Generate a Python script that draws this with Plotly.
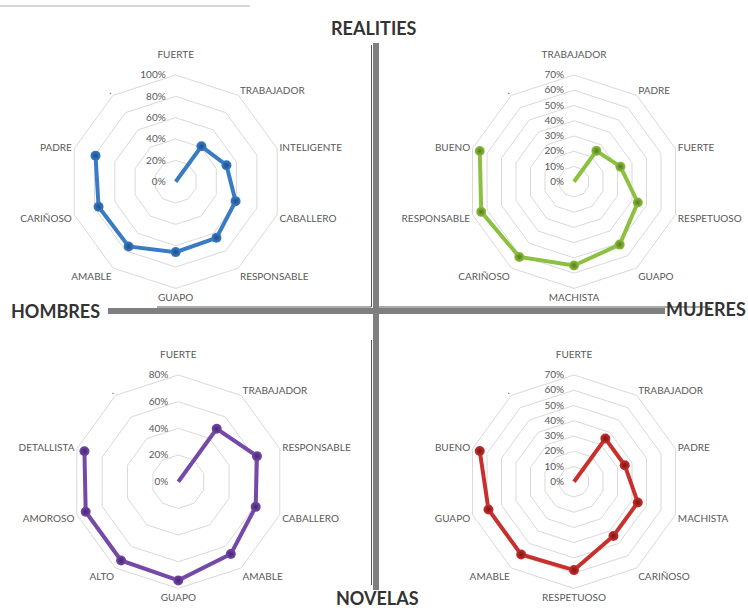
import plotly.graph_objects as go

# ---- data -------------------------------------------------------------
hombres_realities_cats = ["FUERTE", "TRABAJADOR", "INTELIGENTE", "CABALLERO",
                          "RESPONSABLE", "GUAPO", "AMABLE", "CARIÑOSO", "PADRE"]
hombres_realities_vals = [0, 41, 50, 59, 65, 66, 75, 76, 79]

mujeres_realities_cats = ["TRABAJADOR", "PADRE", "FUERTE", "RESPETUOSO",
                          "GUAPO", "MACHISTA", "CARIÑOSO", "RESPONSABLE", "BUENO"]
mujeres_realities_vals = [0, 25, 32, 44, 51, 55, 61, 64, 65]

hombres_novelas_cats = ["FUERTE", "TRABAJADOR", "RESPONSABLE", "CABALLERO",
                        "AMABLE", "GUAPO", "ALTO", "AMOROSO", "DETALLISTA"]
hombres_novelas_vals = [0, 49, 62, 61, 67, 74, 73, 73, 74]

mujeres_novelas_cats = ["FUERTE", "TRABAJADOR", "PADRE", "MACHISTA",
                        "CARIÑOSO", "RESPETUOSO", "AMABLE", "GUAPO", "BUENO"]
mujeres_novelas_vals = [0, 35, 35, 44, 44, 58, 59, 59, 65]

blank_axis = "."   # tenth spoke of each radar has no name

radial_max = [100, 70, 80, 70]
radial_step = [20, 10, 20, 10]

panel_titles = ["REALITIES", "HOMBRES", "MUJERES", "NOVELAS"]

# ---- styling ----------------------------------------------------------
W, H = 748, 610
R = 106.7
panels = [
    # (cats, vals, colour, gradient edge, centre x, centre y)
    (hombres_realities_cats, hombres_realities_vals, "#3a7cc4", "#1d4f8c", 175.7, 181.7),
    (mujeres_realities_cats, mujeres_realities_vals, "#8cc040", "#557a1c", 574.0, 181.7),
    (hombres_novelas_cats, hombres_novelas_vals, "#7449a8", "#45256e", 178.3, 481.7),
    (mujeres_novelas_cats, mujeres_novelas_vals, "#c8302e", "#7e1412", 574.0, 481.7),
]

label_font = dict(family="Lato, Open Sans, sans-serif", size=10, color="#595959")
grid_col = "#d9d9d9"

fig = go.Figure()
layout_polars = {}
for i, (cats, vals, col, edge, cx, cy) in enumerate(panels):
    name = "polar" if i == 0 else f"polar{i + 1}"
    fig.add_trace(go.Scatterpolar(
        r=vals, theta=cats, mode="lines+markers",
        line=dict(color=col, width=4),
        marker=dict(size=10, color=col,
                    gradient=dict(type="radial", color=edge),
                    line=dict(width=0)),
        subplot=name, showlegend=False, hoverinfo="skip",
    ))
    spokes = cats + [blank_axis]
    # the top label sits a little higher above its spoke
    spoke_text = [spokes[0] + "<br> "] + spokes[1:]
    layout_polars[name] = dict(
        domain=dict(x=[(cx - R) / W, (cx + R) / W],
                    y=[1 - (cy + R) / H, 1 - (cy - R) / H]),
        gridshape="linear",
        bgcolor="rgba(0,0,0,0)",
        angularaxis=dict(
            type="category", categoryarray=spokes,
            tickmode="array", tickvals=spokes, ticktext=spoke_text,
            rotation=90, direction="clockwise",
            showgrid=False, showline=True, linecolor=grid_col, linewidth=1,
            ticks="", ticklen=0,
            tickfont=label_font,
        ),
        radialaxis=dict(
            range=[0, radial_max[i]], dtick=radial_step[i], tick0=0,
            ticksuffix="%", angle=90, tickangle=90, side="counterclockwise",
            showline=False, ticks="outside", ticklen=6,
            tickcolor="rgba(0,0,0,0)", gridcolor=grid_col, gridwidth=1,
            tickfont=label_font,
        ),
    )

fig.update_layout(
    width=W, height=H,
    margin=dict(l=0, r=0, t=0, b=0),
    paper_bgcolor="white", plot_bgcolor="white",
    **layout_polars,
)

def px(x):
    return x / W

def py(y):
    return 1 - y / H

shapes = [
    # faint rule along the top edge
    dict(type="line", x0=px(0), x1=px(250), y0=py(6), y1=py(6),
         line=dict(color="#d6d6d6", width=2)),
    # thin chart frames behind the cross
    dict(type="line", x0=px(371.5), x1=px(371.5), y0=py(45), y1=py(307),
         line=dict(color="#555555", width=1)),
    dict(type="line", x0=px(157), x1=px(371.5), y0=py(307), y1=py(307),
         line=dict(color="#555555", width=1)),
    dict(type="line", x0=px(377), x1=px(710), y0=py(307), y1=py(307),
         line=dict(color="#555555", width=1)),
    dict(type="line", x0=px(371.5), x1=px(371.5), y0=py(340), y1=py(585),
         line=dict(color="#555555", width=1)),
    # the grey cross splitting the four quadrants
    dict(type="line", x0=px(376), x1=px(376), y0=py(43), y1=py(590),
         line=dict(color="#7f7f7f", width=6)),
    dict(type="line", x0=px(108), x1=px(665), y0=py(311), y1=py(311),
         line=dict(color="#7f7f7f", width=6)),
]
fig.update_layout(shapes=shapes)

title_font = dict(family="Lato, Open Sans, sans-serif", size=18, color="#333333")
title_pos = [(374, 28), (56, 311), (706, 309), (377, 598)]
for text, (x, y) in zip(panel_titles, title_pos):
    fig.add_annotation(x=px(x), y=py(y), xref="paper", yref="paper",
                       text=f"<b>{text}</b>", showarrow=False,
                       xanchor="center", yanchor="middle", font=title_font)

fig.write_html("out.html")
